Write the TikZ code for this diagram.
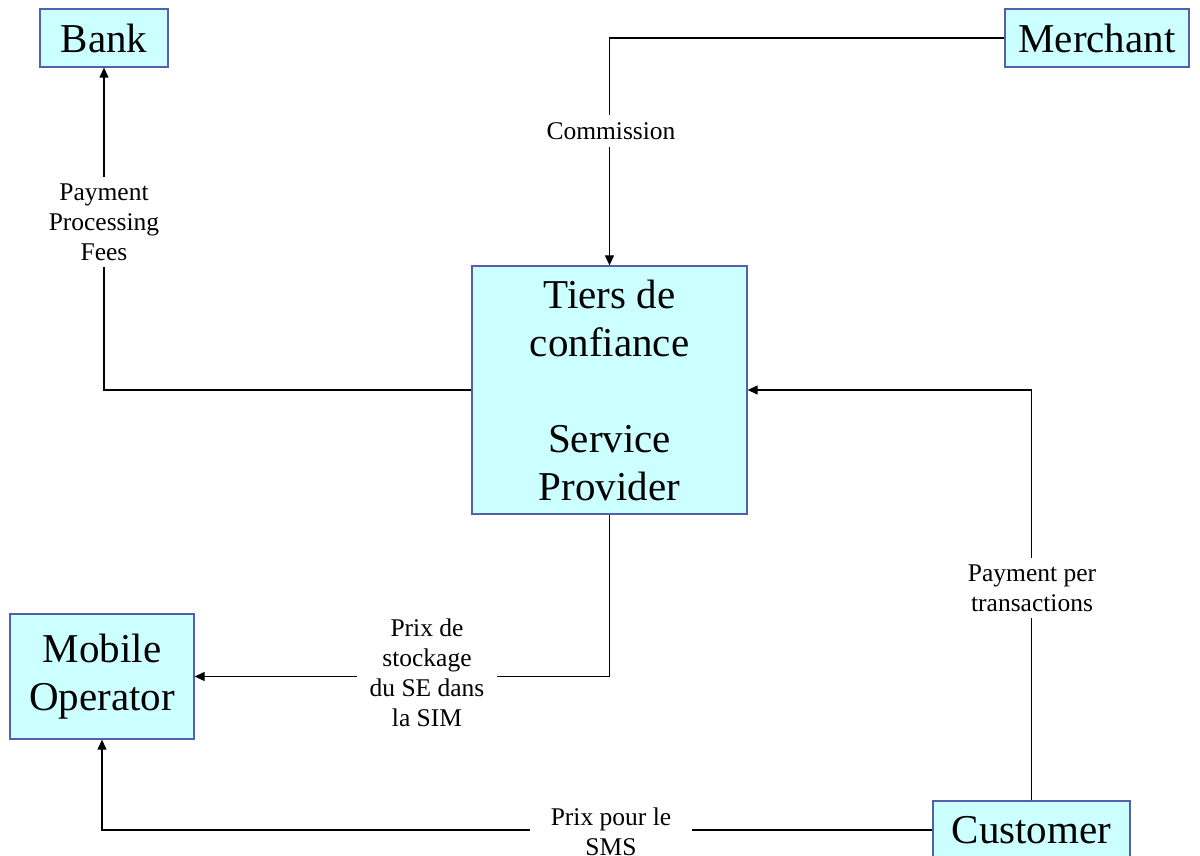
\documentclass[tikz,border=0pt]{standalone}
\usepackage{fontspec}
\setmainfont{Liberation Serif}
\usetikzlibrary{arrows.meta}
\definecolor{boxfill}{RGB}{204,255,255}
\definecolor{boxline}{RGB}{85,95,175}
\tikzset{
  party/.style={draw=boxline, fill=boxfill, line width=1.3pt, inner sep=0pt,
    align=center, font=\fontsize{41}{48}\selectfont},
  flow/.style={line width=1.2pt, -{Triangle[length=10pt,width=9pt]}},
  lbl/.style={fill=white, align=center, inner xsep=13pt, inner ysep=7pt, font=\fontsize{25.5}{30}\selectfont}
}
\begin{document}
\begin{tikzpicture}[x=1pt,y=-1pt]
\useasboundingbox (0,0) rectangle (1200,856);
\node[party, minimum width=128pt, minimum height=58pt] (bank) at (104,38) {Bank};
\node[party, minimum width=184pt, minimum height=58pt] (merchant) at (1097,38) {Merchant};
\node[party, minimum width=275pt, minimum height=248pt] (sp) at (609.5,390) {Tiers de\\confiance\\[48pt]Service\\Provider};
\node[party, minimum width=184pt, minimum height=125pt] (mobile) at (102,676.5) {Mobile\\Operator};
\node[party, minimum width=197pt, minimum height=58pt] (customer) at (1031.5,830) {Customer};

\draw[flow] (sp.west) -| (bank.south);
\draw[flow] (merchant.west) -| (sp.north);
\draw[flow] (customer.north) |- (sp.east);
\draw[flow] (sp.south) |- (mobile.east);
\draw[flow] (customer.west) -| (mobile.south);

\node[lbl] (l1) at (104,222) {Payment\\Processing\\Fees};
\node[lbl] (l2) at (611,131) {Commission};
\node[lbl] (l3) at (1032,588) {Payment per\\transactions};
\node[lbl] (l4) at (427,673) {Prix de\\stockage\\du SE dans\\la SIM};
\node[lbl, inner xsep=21pt] (l5) at (611,832) {Prix pour le\\SMS};
\end{tikzpicture}
\end{document}
